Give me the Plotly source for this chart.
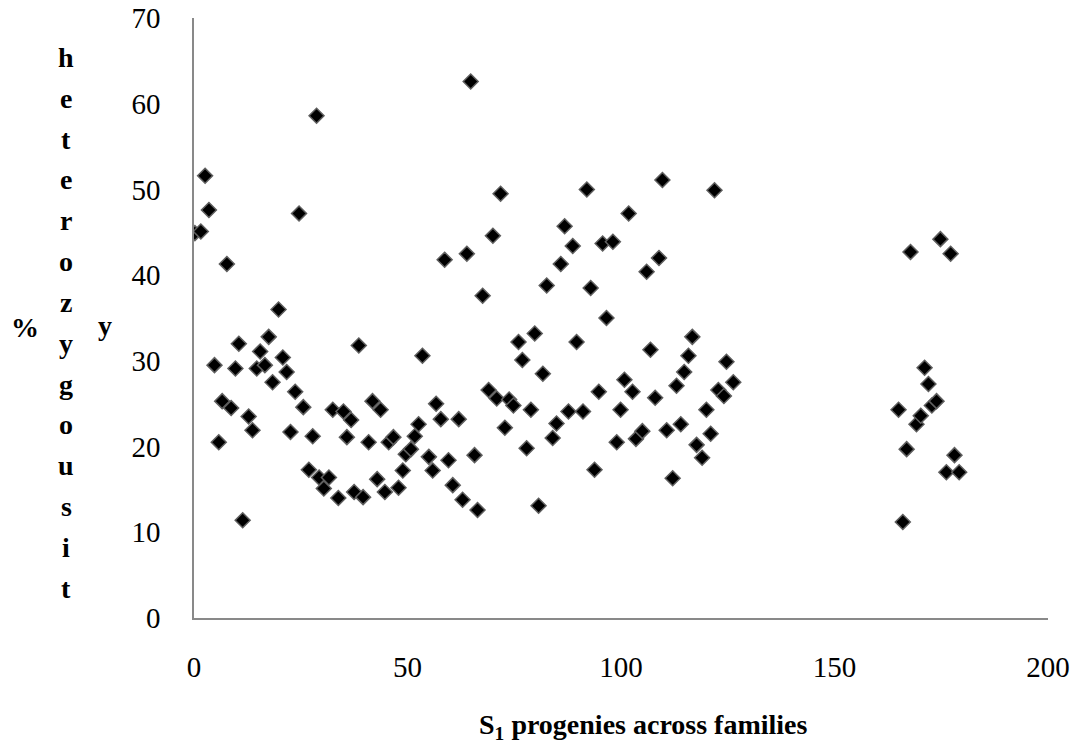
import plotly.graph_objects as go

# S1 progeny position (x) and % heterozygosity (y)
progeny = [0.2, 1.6, 2.6, 3.5, 4.8, 5.8, 6.6, 7.7, 8.7, 9.7, 10.5, 11.4, 12.8, 13.7, 14.7,
           15.5, 16.6, 17.5, 18.4, 19.8, 20.8, 21.7, 22.6, 23.7, 24.6, 25.6, 26.9, 27.8,
           28.7, 29.3, 30.4, 31.6, 32.5, 33.8, 35.0, 35.8, 36.8, 37.5, 38.6, 39.6, 40.9,
           41.8, 42.9, 43.7, 44.7, 45.6, 46.7, 47.9, 48.9, 49.6, 50.8, 51.7, 52.6, 53.5,
           55.0, 55.9, 56.7, 57.8, 58.7, 59.6, 60.6, 62.0, 62.9, 63.9, 64.8, 65.7, 66.4,
           67.6, 69.0, 70.0, 70.9, 71.8, 72.8, 73.8, 74.8, 76.0, 76.9, 77.9, 78.9, 79.8,
           80.7, 81.7, 82.6, 84.0, 84.9, 85.9, 86.8, 87.7, 88.7, 89.6, 91.1, 92.0, 92.9,
           93.8, 94.8, 95.7, 96.6, 98.1, 99.0, 99.9, 100.8, 101.8, 102.7, 103.5, 105.0,
           106.0, 106.9, 108.0, 108.9, 109.7, 110.7, 112.1, 113.0, 114.0, 114.8, 115.8,
           116.7, 117.7, 119.0, 120.0, 121.0, 121.9, 122.8, 124.1, 124.7, 126.3,
           165.0, 166.0, 166.9, 167.8, 169.2, 170.2, 171.1, 172.0, 172.8, 173.9, 174.8,
           176.2, 177.2, 178.1, 179.2]
heterozygosity = [44.9, 45.1, 51.6, 47.6, 29.5, 20.5, 25.3, 41.3, 24.5, 29.1, 32.0, 11.4, 23.5,
                  21.9, 29.1, 31.1, 29.5, 32.8, 27.5, 36.0, 30.4, 28.7, 21.7, 26.4, 47.2, 24.6,
                  17.3, 21.2, 58.6, 16.4, 15.1, 16.4, 24.3, 14.0, 24.1, 21.1, 23.1, 14.7, 31.8,
                  14.1, 20.5, 25.3, 16.2, 24.3, 14.7, 20.5, 21.1, 15.2, 17.2, 19.1, 19.7, 21.2,
                  22.6, 30.6, 18.8, 17.2, 25.0, 23.2, 41.8, 18.4, 15.5, 23.2, 13.8, 42.5, 62.6,
                  19.0, 12.6, 37.6, 26.6, 44.6, 25.6, 49.5, 22.2, 25.5, 24.8, 32.2, 30.1, 19.8,
                  24.3, 33.2, 13.1, 28.5, 38.8, 21.0, 22.7, 41.3, 45.7, 24.1, 43.4, 32.2, 24.1,
                  50.0, 38.5, 17.3, 26.4, 43.7, 35.0, 43.9, 20.5, 24.3, 27.8, 47.2, 26.4, 20.9,
                  21.8, 40.4, 31.3, 25.7, 42.0, 51.1, 21.9, 16.3, 27.1, 22.6, 28.7, 30.6, 32.8,
                  20.2, 18.7, 24.3, 21.5, 49.9, 26.6, 25.9, 29.9, 27.5,
                  24.3, 11.2, 19.7, 42.7, 22.6, 23.6, 29.2, 27.3, 24.8, 25.3, 44.2, 17.0, 42.5,
                  19.0, 17.0]

x_ticks = [0, 50, 100, 150, 200]
y_ticks = [0, 10, 20, 30, 40, 50, 60, 70]
x_title = "S<sub>1</sub> progenies across families"
y_title_word = "heterozygousity"

W, H = 1081, 754
# plot area in page pixels: x 194..1048, y 18..617.7
L, T = 194, 18
R = W - 1048
B = H - 617.7
FONT = "Liberation Serif, Times New Roman, serif"

def px_to_paper(px, py):
    return (px - L) / (W - L - R), (H - B - py) / (H - T - B)

fig = go.Figure()
fig.add_trace(go.Scatter(
    x=progeny, y=heterozygosity, mode="markers",
    marker=dict(symbol="diamond", size=11.5, color="black",
                line=dict(color="#5f5f5f", width=1.5)),
    showlegend=False, hoverinfo="x+y"))

axis_common = dict(showline=True, linecolor="#898989", linewidth=1.5, showgrid=False,
                   zeroline=False, ticks="", automargin=False, ticklabeloverflow="allow",
                   tickfont=dict(family=FONT, size=29, color="black"))
fig.update_xaxes(range=[0, 200], tickvals=x_ticks, ticklabelstandoff=22, **axis_common)
fig.update_yaxes(range=[0, 70], tickvals=y_ticks, ticklabelstandoff=26, **axis_common)

ann = []
bold = dict(family=FONT, size=28, color="black")
# "%" and trailing "y" of the wrapped y-axis title
for txt, px, py in [("<b>%</b>", 25, 327), ("<b>y</b>", 105, 325)]:
    xp, yp = px_to_paper(px, py)
    ann.append(dict(text=txt, x=xp, y=yp, xref="paper", yref="paper", showarrow=False,
                    xanchor="center", yanchor="middle", font=bold))
# stacked letters of "heterozygousit"
letters = list(y_title_word[:-1])
for i, ch in enumerate(letters):
    xp, yp = px_to_paper(66, 40 + i * 40.8)
    ann.append(dict(text=f"<b>{ch}</b>", x=xp, y=yp, xref="paper", yref="paper",
                    showarrow=False, xanchor="center", yanchor="top", font=bold))
xp, yp = px_to_paper(643, 726)
ann.append(dict(text=f"<b>{x_title}</b>", x=xp, y=yp, xref="paper", yref="paper",
                showarrow=False, xanchor="center", yanchor="middle", font=bold))

fig.update_layout(width=W, height=H, margin=dict(l=L, r=R, t=T, b=B),
                  paper_bgcolor="white", plot_bgcolor="white", annotations=ann)

fig.write_html("out.html", config={"displayModeBar": False},
               post_script="document.body.style.margin='0px';document.body.style.overflow='hidden';")
